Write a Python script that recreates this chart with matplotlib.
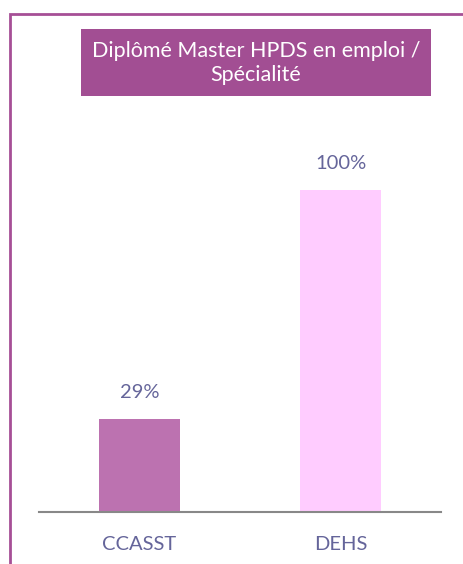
import matplotlib.pyplot as plt
from matplotlib.patches import Rectangle

categories = ["CCASST", "DEHS"]
values = [0.29, 1.00]
labels = ["29%", "100%"]
bar_colors = ["#BC72B0", "#FFCCFF"]
title = "Diplômé Master HPDS en emploi /\nSpécialité"

plt.rcParams['font.family'] = ['Lato', 'DejaVu Sans']
text_color = "#65659A"

W, H = 464, 564
fig = plt.figure(figsize=(W / 100, H / 100), dpi=100)

# outer frame (runs off the right and bottom edge)
fig.patches.append(Rectangle((9.8 / W, -0.05), 1.2, (H - 13.5) / H + 0.05,
                             transform=fig.transFigure, fill=False,
                             edgecolor="#A64F96", linewidth=2.0))

# title box
fig.patches.append(Rectangle((81 / W, (H - 96) / H), 350 / W, 67 / H,
                             transform=fig.transFigure, facecolor="#A24E93",
                             edgecolor="none"))
fig.text(256 / W, (H - 63) / H, title, color="white", fontsize=15.5,
         ha="center", va="center", linespacing=1.25)

ax = fig.add_axes([39 / W, 52 / H, 402 / W, 322 / H])
x = range(len(categories))
bars = ax.bar(x, values, width=0.403, color=bar_colors)
ax.set_xlim(-0.5, 1.5)
ax.set_ylim(0, 1)

for b, lab in zip(bars, labels):
    ax.annotate(lab, (b.get_x() + b.get_width() / 2, b.get_height()),
                xytext=(0, 19), textcoords="offset points",
                ha="center", va="center", color=text_color, fontsize=14.5)

ax.set_xticks(list(x))
ax.set_xticklabels(categories, color=text_color, fontsize=14.5)
ax.tick_params(axis="x", length=0, pad=17)
ax.set_yticks([])
for s in ["top", "right", "left"]:
    ax.spines[s].set_visible(False)
ax.spines["bottom"].set_color("#888888")
ax.spines["bottom"].set_linewidth(1.5)

fig.savefig("out.png", dpi=100)
